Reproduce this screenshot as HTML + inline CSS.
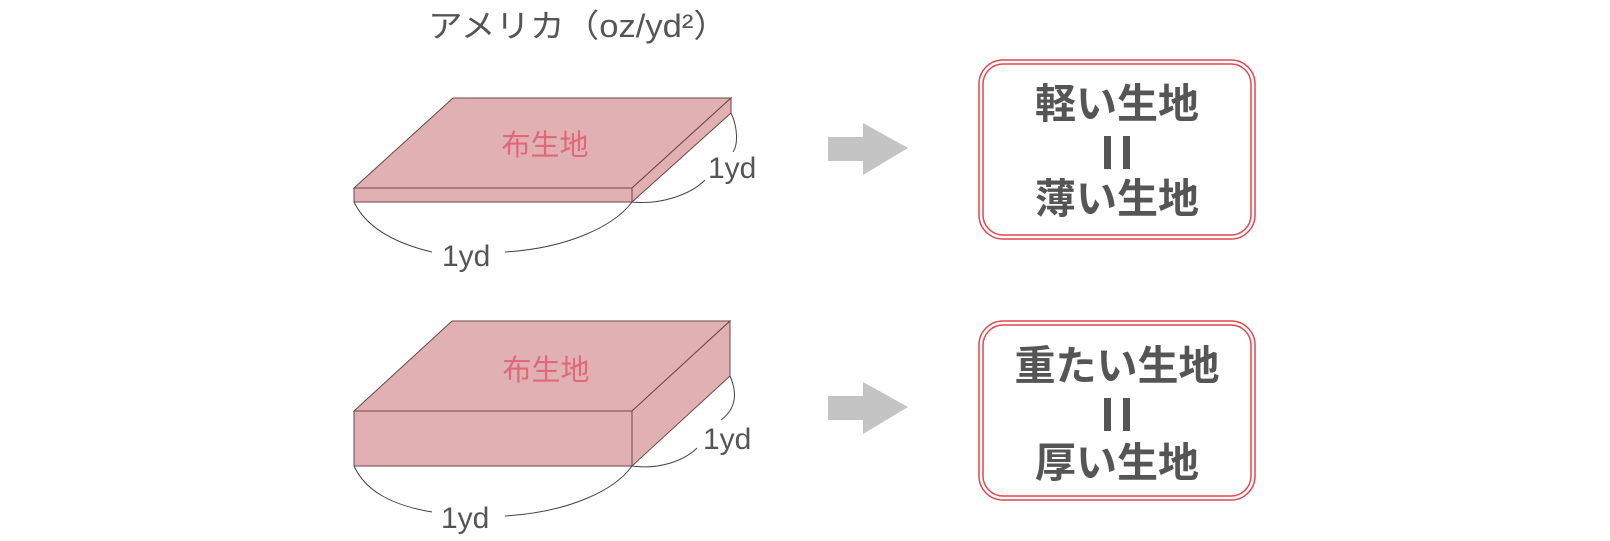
<!DOCTYPE html>
<html><head><meta charset="utf-8"><style>
body{margin:0;background:#fff;}
svg{display:block}
</style></head><body>
<svg width="1610" height="541" viewBox="0 0 1610 541" xmlns="http://www.w3.org/2000/svg">
<text x="428" y="37" font-family="Liberation Sans, Noto Sans CJK JP, sans-serif" font-size="32" fill="#555" textLength="300" lengthAdjust="spacingAndGlyphs">アメリカ（oz/yd²）</text>

<!-- top slab -->
<g stroke="#6b4848" stroke-width="1" fill="#e0b0b3">
<polygon points="453,98 731,98 632,188 354,188"/>
<polygon points="354,188 632,188 632,202 354,202"/>
<polygon points="632,188 731,98 731,113 632,202"/>
</g>
<text x="545" y="155" text-anchor="middle" font-family="Liberation Sans, Noto Sans CJK JP, sans-serif" font-size="29" fill="#e06878">布生地</text>
<g fill="none" stroke="#444" stroke-width="1">
<path d="M354,202 C365,225 390,242 432,252"/>
<path d="M505,252 C570,248 615,225 632,202"/>
<path d="M731,113 C738,128 738,145 733,152"/>
<path d="M705,180 C690,195 660,205 632,202"/>
</g>
<text x="442" y="266" font-family="Liberation Sans, Noto Sans CJK JP, sans-serif" font-size="30" fill="#555">1yd</text>
<text x="708" y="178" font-family="Liberation Sans, Noto Sans CJK JP, sans-serif" font-size="30" fill="#555">1yd</text>

<!-- bottom slab -->
<g stroke="#6b4848" stroke-width="1" fill="#e0b0b3">
<polygon points="452,321 730,321 632,411 354,411"/>
<polygon points="354,411 632,411 632,466 354,466"/>
<polygon points="632,411 730,321 730,376 632,466"/>
</g>
<text x="546" y="380" text-anchor="middle" font-family="Liberation Sans, Noto Sans CJK JP, sans-serif" font-size="29" fill="#e06878">布生地</text>
<g fill="none" stroke="#444" stroke-width="1">
<path d="M354,466 C365,490 390,505 432,512"/>
<path d="M505,516 C570,512 615,490 632,466"/>
<path d="M730,376 C737,392 737,408 721,420"/>
<path d="M697,448 C685,460 660,470 632,466"/>
</g>
<text x="441" y="528" font-family="Liberation Sans, Noto Sans CJK JP, sans-serif" font-size="30" fill="#555">1yd</text>
<text x="703" y="449" font-family="Liberation Sans, Noto Sans CJK JP, sans-serif" font-size="30" fill="#555">1yd</text>

<!-- arrows -->
<polygon points="828,137 863,137 863,123 908,148 863,175 863,161 828,161" fill="#c4c4c4"/>
<polygon points="828,396 863,396 863,382 908,407 863,434 863,420 828,420" fill="#c4c4c4"/>

<!-- boxes -->
<g fill="none" stroke="#e0474f">
<rect x="979" y="60" width="276" height="179" rx="24" stroke-width="1.5"/>
<rect x="983" y="64" width="268" height="171" rx="20" stroke-width="1.5"/>
<rect x="979" y="321" width="276" height="179" rx="24" stroke-width="1.5"/>
<rect x="983" y="325" width="268" height="171" rx="20" stroke-width="1.5"/>
</g>
<g font-family="Liberation Sans, Noto Sans CJK JP, sans-serif" font-size="41" font-weight="bold" fill="#555" text-anchor="middle">
<text x="1117" y="118">軽い生地</text>
<text x="1117" y="213">薄い生地</text>
<text x="1117" y="380">重たい生地</text>
<text x="1117" y="477">厚い生地</text>
</g>
<g fill="#555">
<rect x="1104" y="136" width="7" height="33"/>
<rect x="1123" y="136" width="7" height="33"/>
<rect x="1104" y="398" width="7" height="33"/>
<rect x="1123" y="398" width="7" height="33"/>
</g>
</svg>
</body></html>
